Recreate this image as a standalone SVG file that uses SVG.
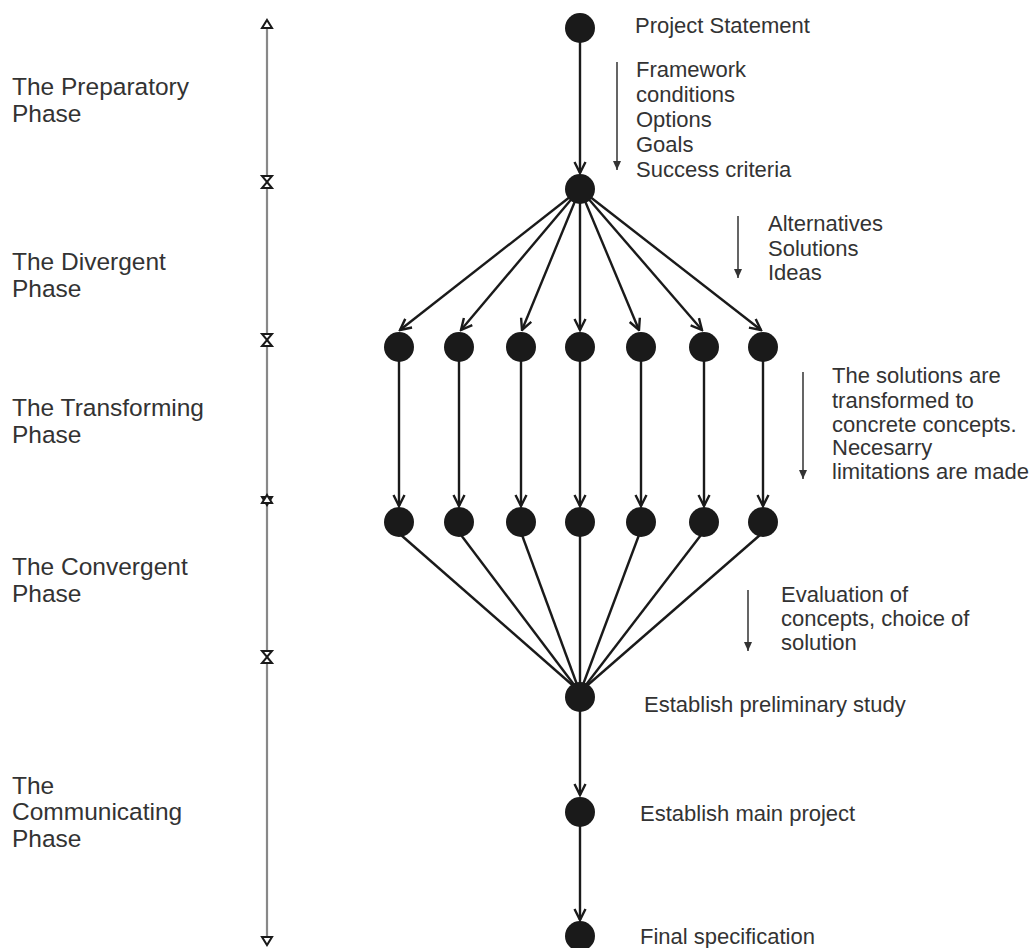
<svg xmlns="http://www.w3.org/2000/svg" width="1032" height="948" viewBox="0 0 1032 948">
  <defs>
    <style>
      .lbl { font-family: "Liberation Sans", Arial, sans-serif; font-size: 22px; fill: #333; }
      .phase { font-family: "Liberation Sans", Arial, sans-serif; font-size: 24.5px; fill: #333; }
      .edge { stroke: #1a1a1a; stroke-width: 2.4; fill: none; }
      .node { fill: #1a1a1a; }
      .hint { stroke: #555; stroke-width: 1.8; fill: none; }
      .tl { stroke: #888; stroke-width: 2.2; fill: none; }
      .tri { fill: #fff; stroke: #1a1a1a; stroke-width: 2; stroke-linejoin: miter; }
    </style>
    <marker id="v" viewBox="0 0 14 14" refX="12.5" refY="7" markerWidth="14" markerHeight="14" markerUnits="userSpaceOnUse" orient="auto">
      <path d="M1.5,1.5 L12.5,7 L1.5,12.5" fill="none" stroke="#1a1a1a" stroke-width="2.4"/>
    </marker>
    <marker id="s" viewBox="0 0 10 8" refX="9" refY="4" markerWidth="10" markerHeight="8" markerUnits="userSpaceOnUse" orient="auto">
      <path d="M0,0 L9,4 L0,8 Z" fill="#333"/>
    </marker>
  </defs>
  <rect width="1032" height="948" fill="#fff"/>

  <!-- timeline -->
  <g id="timeline">
    <line class="tl" x1="267" y1="20" x2="267" y2="945"/>
    <path class="tri" d="M267,20 L272,28 L262,28 Z"/>
    <path class="tri" d="M262,176 L272,176 L267,182 Z"/>
    <path class="tri" d="M267,182 L272,188 L262,188 Z"/>
    <path class="tri" d="M262,334 L272,334 L267,340 Z"/>
    <path class="tri" d="M267,340 L272,346 L262,346 Z"/>
    <path class="tri" d="M262,497 L272,497 L267,505 Z"/>
    <path class="tri" d="M267,495 L272,503 L262,503 Z"/>
    <path class="tri" d="M262,651 L272,651 L267,657 Z"/>
    <path class="tri" d="M267,657 L272,663 L262,663 Z"/>
    <path class="tri" d="M262,937 L272,937 L267,945 Z"/>
  </g>

  <g id="phase-labels">
    <text class="phase" x="12" y="95">The Preparatory</text>
    <text class="phase" x="12" y="122">Phase</text>
    <text class="phase" x="12" y="270">The Divergent</text>
    <text class="phase" x="12" y="297">Phase</text>
    <text class="phase" x="12" y="416">The Transforming</text>
    <text class="phase" x="12" y="443">Phase</text>
    <text class="phase" x="12" y="575">The Convergent</text>
    <text class="phase" x="12" y="602">Phase</text>
    <text class="phase" x="12" y="794">The</text>
    <text class="phase" x="12" y="820">Communicating</text>
    <text class="phase" x="12" y="847">Phase</text>
  </g>

  <!-- connectors -->
  <g id="connectors">
    <line class="edge" x1="580" y1="28" x2="580" y2="173" marker-end="url(#v)"/>
    <line class="edge" x1="580" y1="189" x2="400" y2="330" marker-end="url(#v)"/>
    <line class="edge" x1="580" y1="189" x2="461" y2="330" marker-end="url(#v)"/>
    <line class="edge" x1="580" y1="189" x2="522" y2="330" marker-end="url(#v)"/>
    <line class="edge" x1="580" y1="189" x2="580" y2="330" marker-end="url(#v)"/>
    <line class="edge" x1="580" y1="189" x2="639" y2="330" marker-end="url(#v)"/>
    <line class="edge" x1="580" y1="189" x2="702" y2="330" marker-end="url(#v)"/>
    <line class="edge" x1="580" y1="189" x2="761" y2="330" marker-end="url(#v)"/>

    <line class="edge" x1="399" y1="347" x2="399" y2="506" marker-end="url(#v)"/>
    <line class="edge" x1="459" y1="347" x2="459" y2="506" marker-end="url(#v)"/>
    <line class="edge" x1="521" y1="347" x2="521" y2="506" marker-end="url(#v)"/>
    <line class="edge" x1="580" y1="347" x2="580" y2="506" marker-end="url(#v)"/>
    <line class="edge" x1="641" y1="347" x2="641" y2="506" marker-end="url(#v)"/>
    <line class="edge" x1="704" y1="347" x2="704" y2="506" marker-end="url(#v)"/>
    <line class="edge" x1="763" y1="347" x2="763" y2="506" marker-end="url(#v)"/>

    <line class="edge" x1="401" y1="535" x2="578" y2="690"/>
    <line class="edge" x1="461" y1="535" x2="578" y2="690"/>
    <line class="edge" x1="522" y1="535" x2="579" y2="690"/>
    <line class="edge" x1="580" y1="535" x2="580" y2="690"/>
    <line class="edge" x1="639" y1="535" x2="581" y2="690"/>
    <line class="edge" x1="701" y1="535" x2="582" y2="690"/>
    <line class="edge" x1="760" y1="535" x2="582" y2="690"/>

    <line class="edge" x1="580" y1="697" x2="580" y2="795" marker-end="url(#v)"/>
    <line class="edge" x1="580" y1="812" x2="580" y2="920" marker-end="url(#v)"/>
  </g>

  <!-- nodes -->
  <g id="n-statement"><circle class="node" cx="580" cy="28" r="15"/><text class="lbl" x="635" y="33">Project Statement</text></g>
  <g id="n-prep"><circle class="node" cx="580" cy="189" r="15"/></g>
  <g id="n-d1"><circle class="node" cx="399" cy="347" r="15"/></g>
  <g id="n-d2"><circle class="node" cx="459" cy="347" r="15"/></g>
  <g id="n-d3"><circle class="node" cx="521" cy="347" r="15"/></g>
  <g id="n-d4"><circle class="node" cx="580" cy="347" r="15"/></g>
  <g id="n-d5"><circle class="node" cx="641" cy="347" r="15"/></g>
  <g id="n-d6"><circle class="node" cx="704" cy="347" r="15"/></g>
  <g id="n-d7"><circle class="node" cx="763" cy="347" r="15"/></g>
  <g id="n-t1"><circle class="node" cx="399" cy="522" r="15"/></g>
  <g id="n-t2"><circle class="node" cx="459" cy="522" r="15"/></g>
  <g id="n-t3"><circle class="node" cx="521" cy="522" r="15"/></g>
  <g id="n-t4"><circle class="node" cx="580" cy="522" r="15"/></g>
  <g id="n-t5"><circle class="node" cx="641" cy="522" r="15"/></g>
  <g id="n-t6"><circle class="node" cx="704" cy="522" r="15"/></g>
  <g id="n-t7"><circle class="node" cx="763" cy="522" r="15"/></g>
  <g id="n-prelim"><circle class="node" cx="580" cy="697" r="15"/><text class="lbl" x="644" y="712">Establish preliminary study</text></g>
  <g id="n-main"><circle class="node" cx="580" cy="812" r="15"/><text class="lbl" x="640" y="821">Establish main project</text></g>
  <g id="n-final"><circle class="node" cx="580" cy="936" r="15"/><text class="lbl" x="640" y="944">Final specification</text></g>

  <!-- annotations -->
  <g id="note-prep">
    <line class="hint" x1="617" y1="62" x2="617" y2="170" marker-end="url(#s)"/>
    <text class="lbl" x="636" y="77">Framework</text>
    <text class="lbl" x="636" y="102">conditions</text>
    <text class="lbl" x="636" y="127">Options</text>
    <text class="lbl" x="636" y="152">Goals</text>
    <text class="lbl" x="636" y="177">Success criteria</text>
  </g>
  <g id="note-div">
    <line class="hint" x1="738" y1="216" x2="738" y2="278" marker-end="url(#s)"/>
    <text class="lbl" x="768" y="231">Alternatives</text>
    <text class="lbl" x="768" y="256">Solutions</text>
    <text class="lbl" x="768" y="280">Ideas</text>
  </g>
  <g id="note-trans">
    <line class="hint" x1="803" y1="372" x2="803" y2="479" marker-end="url(#s)"/>
    <text class="lbl" x="832" y="383">The solutions are</text>
    <text class="lbl" x="832" y="408">transformed to</text>
    <text class="lbl" x="832" y="432">concrete concepts.</text>
    <text class="lbl" x="832" y="455">Necesarry</text>
    <text class="lbl" x="832" y="479">limitations are made</text>
  </g>
  <g id="note-conv">
    <line class="hint" x1="748" y1="590" x2="748" y2="651" marker-end="url(#s)"/>
    <text class="lbl" x="781" y="602">Evaluation of</text>
    <text class="lbl" x="781" y="626">concepts, choice of</text>
    <text class="lbl" x="781" y="650">solution</text>
  </g>
</svg>
